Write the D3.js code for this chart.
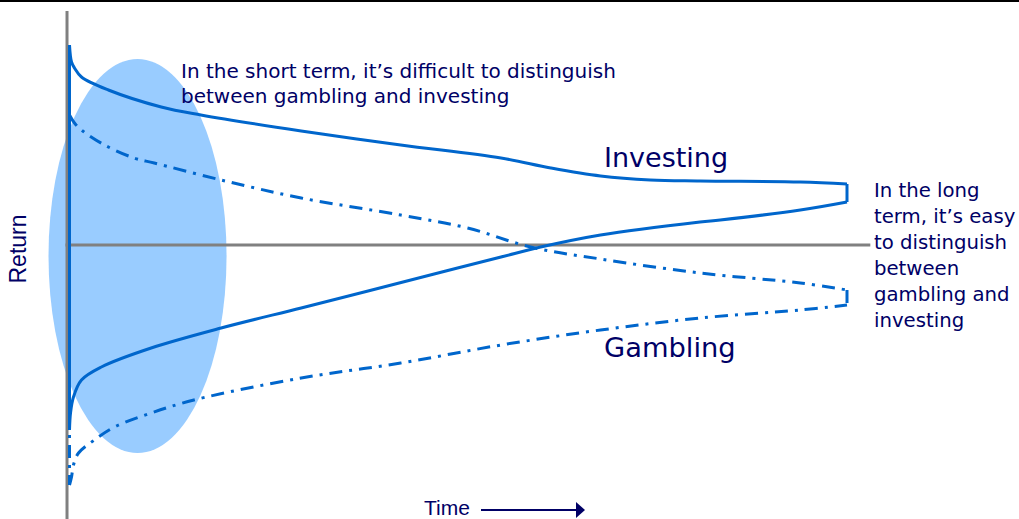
<!DOCTYPE html>
<html>
<head>
<meta charset="utf-8">
<script src="https://cdn.jsdelivr.net/npm/d3@7"></script>
<style>
  html, body { margin: 0; padding: 0; background: #fff; }
  svg { display: block; }
</style>
</head>
<body>
<svg id="chart" width="1019" height="519"></svg>
<script>
// ---- Data (time index 0..100, return in arbitrary units) ----
const investingUpperT = [0, 0.26, 0.64, 1.54, 5.0, 11.8, 16.9, 29.8, 42.6, 55.5, 61.9, 68.3, 74.7, 81.1, 94.0, 100];
const investingUpperR = [100, 91.5, 88.5, 84, 77.5, 69, 65, 57, 50, 43.5, 38.5, 34.5, 32.5, 32, 31.5, 30.5];
const investingLowerT = [0, 0.13, 0.51, 1.54, 4.1, 10.5, 19.5, 29.8, 38.4, 46.9, 55.5, 60.6, 68.3, 81.1, 83.7, 94.0, 100];
const investingLowerR = [-92.5, -84, -76, -67.5, -61, -51.5, -41.5, -31.5, -23, -14.5, -6, -1, 5, 11.5, 12.5, 17.5, 21.5];

const gamblingUpperT = [0, 0.64, 1.54, 4.5, 8.3, 10.9, 19.5, 29.8, 42.6, 51.2, 59.3, 68.3, 81.1, 94.0, 100];
const gamblingUpperR = [65, 61, 57.5, 50, 43.5, 41, 32.5, 23.5, 15, 8.5, -1, -7, -14, -19, -22.5];
const gamblingLowerT = [0, 0.26, 0.51, 1.16, 3.2, 5.8, 10.5, 16.0, 29.8, 42.6, 55.5, 68.3, 81.1, 94.0, 100];
const gamblingLowerR = [-120, -116, -110, -104, -97.5, -91, -84, -77.5, -66.5, -59, -50, -42.5, -36.5, -32.5, -30];

// short-term highlight zone: [t min, t max], [r min, r max]
const shortTermZoneT = [-2.7, 20.2];
const shortTermZoneR = [-104, 93];

const seriesLabels = ["Investing", "Gambling"];
const axisLabels = ["Return", "Time"];
const shortNote = ["In the short term, it\u2019s difficult to distinguish", "between gambling and investing"];
const longNote = ["In the long", "term, it\u2019s easy", "to distinguish", "between", "gambling and", "investing"];

// ---- Drawing ----
const svg = d3.select("#chart");
const x = d3.scaleLinear().domain([0, 100]).range([69.5, 847]);
const y = d3.scaleLinear().domain([-100, 100]).range([445, 45]);

const lineBlue = "#0066cc";
const navy = "#000066";
const axisGray = "#808080";

// top rule
svg.append("line").attr("x1", 0).attr("x2", 1019).attr("y1", 1).attr("y2", 1)
  .attr("stroke", "#000").attr("stroke-width", 2);

// highlight ellipse
svg.append("ellipse")
  .attr("cx", (x(shortTermZoneT[0]) + x(shortTermZoneT[1])) / 2)
  .attr("cy", (y(shortTermZoneR[0]) + y(shortTermZoneR[1])) / 2)
  .attr("rx", (x(shortTermZoneT[1]) - x(shortTermZoneT[0])) / 2)
  .attr("ry", (y(shortTermZoneR[0]) - y(shortTermZoneR[1])) / 2)
  .attr("fill", "#99ccff");

// axes (no ticks)
const axisX0 = x(-0.32);
svg.append("line").attr("x1", axisX0).attr("x2", axisX0)
  .attr("y1", y(117)).attr("y2", 519)
  .attr("stroke", axisGray).attr("stroke-width", 3);
svg.append("line").attr("x1", axisX0 - 1.5).attr("x2", x(103))
  .attr("y1", y(0)).attr("y2", y(0))
  .attr("stroke", axisGray).attr("stroke-width", 3);

function pts(ts, rs) { return ts.map((t, i) => [x(t), y(rs[i])]); }
const curve = d3.line().curve(d3.curveCatmullRom.alpha(0.5));
const straight = d3.line();

function funnel(upT, upR, loT, loR, dash) {
  const up = pts(upT, upR);
  const lo = pts(loT, loR);
  const g = svg.append("g").attr("fill", "none").attr("stroke", lineBlue)
    .attr("stroke-width", 3).attr("stroke-dasharray", dash)
    .attr("stroke-linejoin", "round");
  g.append("path").attr("d", curve(up));
  g.append("path").attr("d", curve(lo));
  g.append("path").attr("d", straight([up[up.length - 1], lo[lo.length - 1]]));
  g.append("path").attr("d", straight([up[0], lo[0]]));
}

funnel(investingUpperT, investingUpperR, investingLowerT, investingLowerR, null);
funnel(gamblingUpperT, gamblingUpperR, gamblingLowerT, gamblingLowerR, "13,7,3,7");

// texts
const annFont = "DejaVu Sans, Verdana, sans-serif";
svg.append("g").selectAll("text").data(shortNote).join("text")
  .attr("x", 181).attr("y", (d, i) => 78 + i * 25)
  .attr("font-family", annFont).attr("font-size", 20).attr("fill", navy)
  .text(d => d);

svg.append("g").selectAll("text").data(longNote).join("text")
  .attr("x", 874).attr("y", (d, i) => 197 + i * 26)
  .attr("font-family", annFont).attr("font-size", 19.7).attr("fill", navy)
  .text(d => d);

svg.append("text").attr("x", 604).attr("y", 167)
  .attr("font-family", annFont).attr("font-size", 27).attr("fill", navy)
  .text(seriesLabels[0]);
svg.append("text").attr("x", 604).attr("y", 357)
  .attr("font-family", annFont).attr("font-size", 27.3).attr("fill", navy)
  .text(seriesLabels[1]);

// axis titles
svg.append("text")
  .attr("transform", "translate(26,249) rotate(-90)")
  .attr("text-anchor", "middle")
  .attr("font-family", "Liberation Sans, Arial, sans-serif").attr("font-size", 23)
  .attr("fill", navy).text(axisLabels[0]);

svg.append("text").attr("x", 424).attr("y", 515)
  .attr("font-family", "Liberation Sans, Arial, sans-serif").attr("font-size", 21)
  .attr("fill", navy).text(axisLabels[1]);
svg.append("line").attr("x1", 481).attr("x2", 578).attr("y1", 510).attr("y2", 510)
  .attr("stroke", navy).attr("stroke-width", 2);
svg.append("path").attr("d", d3.line()([[576, 502], [585, 510], [576, 518]]) + "Z")
  .attr("fill", navy);
</script>
</body>
</html>
